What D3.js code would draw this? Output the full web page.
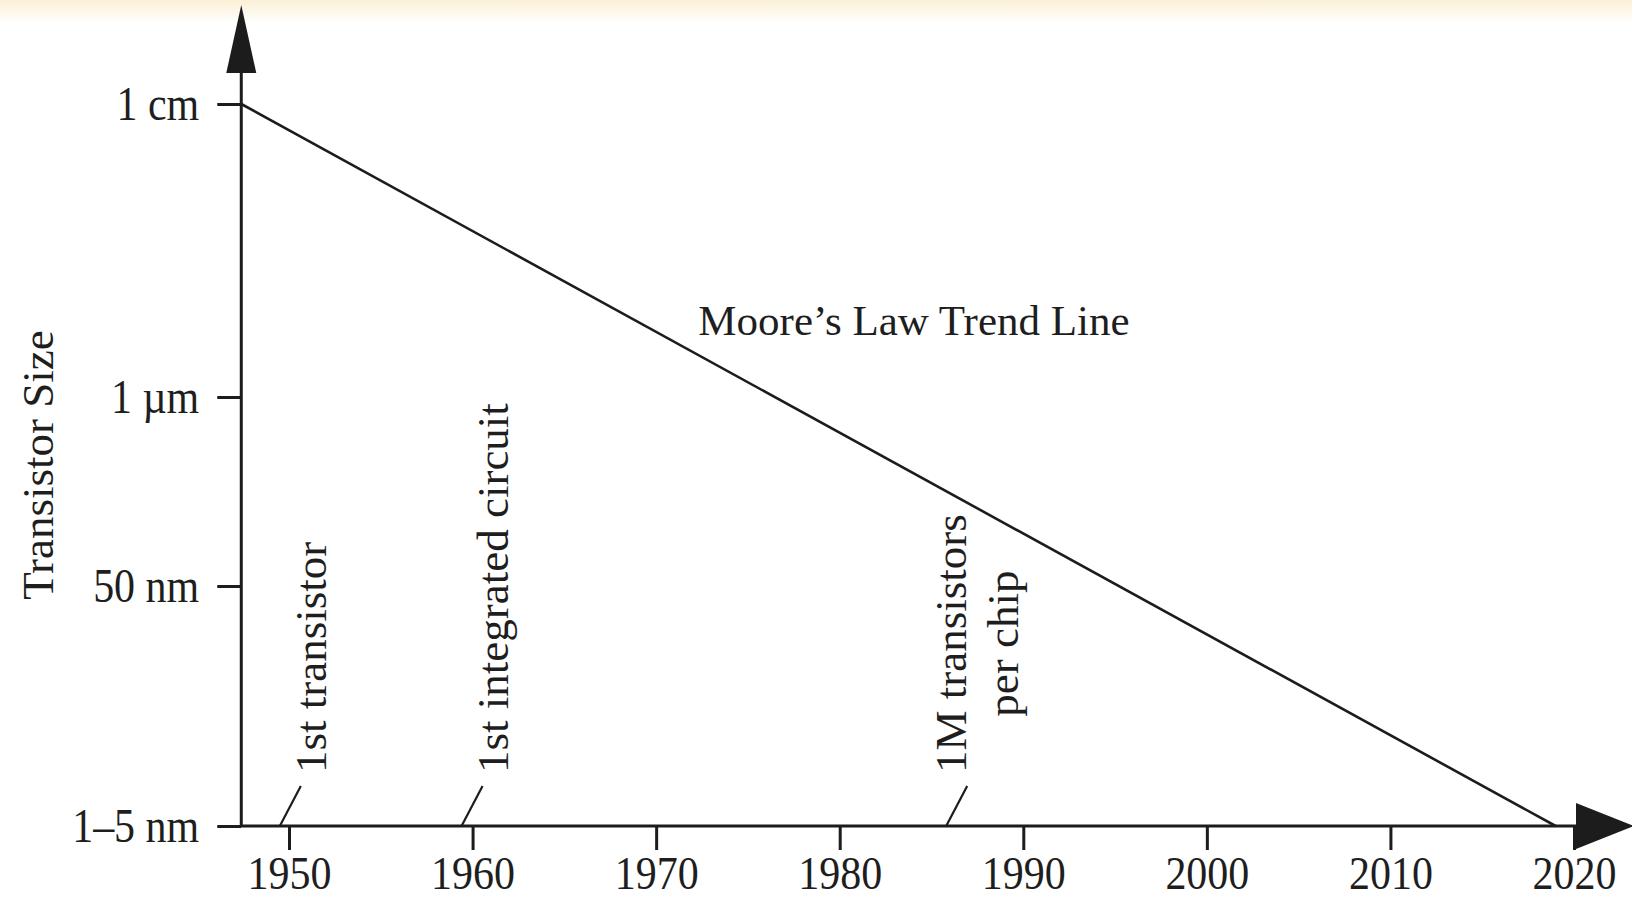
<!DOCTYPE html>
<html>
<head>
<meta charset="utf-8">
<script src="https://cdn.jsdelivr.net/npm/d3@7"></script>
<style>
  html, body { margin: 0; padding: 0; background: #ffffff; }
  svg { display: block; }
  text { font-family: "Liberation Serif", "Times New Roman", serif; fill: #1e1e1e; }
</style>
</head>
<body>
<svg id="chart" width="1632" height="903"></svg>
<script>
// ---------------- data ----------------
const yearTicks = [1950, 1960, 1970, 1980, 1990, 2000, 2010, 2020];
const sizeLabels = ["1 cm", "1 µm", "50 nm", "1–5 nm"];
const sizeValues = [1e-2, 1e-6, 5e-8, 3e-9];          // metres
const trendYears = [1947.4, 2019];
const trendSizes = [1e-2, 3e-9];
const eventYears = [1949.5, 1959.4, 1985.8];
const eventLabels = [["1st transistor"], ["1st integrated circuit"], ["1M transistors", "per chip"]];
const trendLabel = "Moore’s Law Trend Line";
const yTitle = "Transistor Size";

// ---------------- layout ----------------
const W = 1632, H = 903;
const svg = d3.select("#chart");
const ink = "#1c1c1c";

// faint cream band at top
const defs = svg.append("defs");
const g0 = defs.append("linearGradient").attr("id", "topband").attr("x1", 0).attr("y1", 0).attr("x2", 0).attr("y2", 1);
g0.append("stop").attr("offset", "0%").attr("stop-color", "#fbf0d6");
g0.append("stop").attr("offset", "100%").attr("stop-color", "#ffffff");
svg.append("rect").attr("x", 0).attr("y", 0).attr("width", W).attr("height", 24).attr("fill", "url(#topband)");

// scales
const x = d3.scaleLinear().domain([1950, 2020]).range([289, 1574]);
// schematic (non-uniform) log-size axis: piecewise linear in log10(size)
const y = d3.scaleLinear().domain(sizeValues.map(Math.log10)).range([104, 397, 586, 826]);

const x0 = x(trendYears[0]);        // y-axis position
const y0 = y(Math.log10(sizeValues[3])); // x-axis position

// axis lines
svg.append("line").attr("x1", x0).attr("x2", 1580).attr("y1", y0).attr("y2", y0)
  .attr("stroke", ink).attr("stroke-width", 3);
svg.append("line").attr("x1", x0).attr("x2", x0).attr("y1", y0 + 1).attr("y2", 70)
  .attr("stroke", ink).attr("stroke-width", 3);

// arrow heads
svg.append("path").attr("d", d3.line()([[x0, 5], [x0 - 15, 73], [x0 + 15, 73]]) + "Z").attr("fill", ink);
svg.append("path").attr("d", d3.line()([[1634, y0], [1576, y0 - 23], [1576, y0 + 23]]) + "Z").attr("fill", ink);

// x axis
const xAxis = svg.append("g").attr("transform", `translate(0,${y0})`)
  .call(d3.axisBottom(x).tickValues(yearTicks).tickFormat(d3.format("d")).tickSize(24).tickSizeOuter(0));
xAxis.select(".domain").remove();
xAxis.selectAll(".tick line").attr("stroke", ink).attr("stroke-width", 3);
xAxis.selectAll(".tick text")
  .attr("y", null).attr("dy", null)
  .attr("transform", "translate(0,63) scale(1,1.1)")
  .attr("font-size", 42).attr("fill", "#1e1e1e")
  .style("font-family", '"Liberation Serif", serif');

// y axis
const yAxis = svg.append("g").attr("transform", `translate(${x0},0)`)
  .call(d3.axisLeft(y).tickValues(sizeValues.map(Math.log10))
    .tickFormat((d, i) => sizeLabels[i]).tickSize(24).tickPadding(18).tickSizeOuter(0));
yAxis.select(".domain").remove();
yAxis.selectAll(".tick line").attr("stroke", ink).attr("stroke-width", 3);
yAxis.selectAll(".tick text")
  .attr("dy", null).attr("y", 0)
  .attr("transform", "translate(0,15) scale(1,1.15)")
  .attr("font-size", 42).attr("fill", "#1e1e1e")
  .style("font-family", '"Liberation Serif", serif');

// y title
svg.append("text")
  .attr("transform", `translate(53,${(y(-2) + y0) / 2}) rotate(-90)`)
  .attr("text-anchor", "middle")
  .attr("font-size", 45)
  .attr("fill", "#555555")
  .text(yTitle);

// trend line
const trend = trendYears.map((yr, i) => [x(yr), y(Math.log10(trendSizes[i]))]);
svg.append("path").attr("d", d3.line()(trend))
  .attr("fill", "none").attr("stroke", ink).attr("stroke-width", 2.6);

svg.append("text")
  .attr("x", x(1972.3)).attr("y", 335)
  .attr("font-size", 43)
  .text(trendLabel);

// event annotations
eventYears.forEach((yr, i) => {
  const bx = x(yr), by = y0;
  const tx = bx + 21, ty = by - 40;
  svg.append("line").attr("x1", bx).attr("y1", by).attr("x2", tx).attr("y2", ty)
    .attr("stroke", ink).attr("stroke-width", 2.2);
  const lines = eventLabels[i];
  const cx = tx + 10;              // centre of the text block (horizontal)
  const lh = 52;
  const n = lines.length;
  const startY = 773;
  let firstLen = 0;
  lines.forEach((s, j) => {
    const base = cx + 15 - (n - 1) * lh / 2 + j * lh;
    const t = svg.append("text").attr("font-size", 45).text(s);
    if (j === 0) {
      t.attr("transform", `translate(${base},${startY}) rotate(-90)`).attr("text-anchor", "start");
      firstLen = t.node().getComputedTextLength();
    } else {
      t.attr("transform", `translate(${base},${startY - firstLen / 2}) rotate(-90)`).attr("text-anchor", "middle");
    }
  });
});
</script>
</body>
</html>
